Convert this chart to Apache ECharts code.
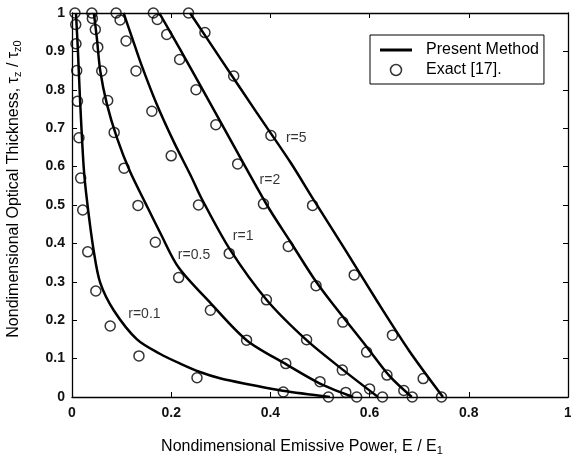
<!DOCTYPE html>
<html>
<head>
<meta charset="utf-8">
<script src="https://cdn.jsdelivr.net/npm/echarts@6/dist/echarts.min.js"></script>
<style>
  html, body { margin: 0; padding: 0; background: #fff; }
  #chart { width: 571px; height: 456px; }
</style>
</head>
<body>
<div id="chart"></div>
<script>
// present method curves, [E/E1, tau/tau0]
var lineR01 = [[0.008, 1], [0.012, 0.9], [0.016, 0.78], [0.0235, 0.6], [0.03, 0.514], [0.0435, 0.383], [0.057, 0.297], [0.084, 0.226], [0.131, 0.15], [0.178, 0.112], [0.218, 0.087], [0.258, 0.065], [0.30, 0.048], [0.36, 0.032], [0.425, 0.016], [0.52, 0]];
var lineR05 = [[0.044, 1], [0.05, 0.936], [0.057, 0.849], [0.0705, 0.762], [0.0906, 0.675], [0.117, 0.587], [0.148, 0.505], [0.178, 0.427], [0.215, 0.337], [0.279, 0.245], [0.352, 0.148], [0.432, 0.085], [0.5, 0.035], [0.567, 0]];
var lineR1 = [[0.104, 1], [0.12, 0.94], [0.14, 0.865], [0.17, 0.765], [0.205, 0.665], [0.24, 0.575], [0.262, 0.515], [0.319, 0.383], [0.393, 0.252], [0.473, 0.148], [0.547, 0.07], [0.617, 0]];
var lineR2 = [[0.176, 1], [0.218, 0.905], [0.298, 0.72], [0.393, 0.5], [0.44, 0.405], [0.487, 0.31], [0.52, 0.252], [0.594, 0.131], [0.64, 0.055], [0.685, 0]];
var lineR5 = [[0.238, 1], [0.30, 0.88], [0.37, 0.745], [0.44, 0.612], [0.487, 0.514], [0.55, 0.385], [0.614, 0.252], [0.68, 0.12], [0.748, 0]];

// exact solution [17]
var exactR01 = [[0.006, 1], [0.0075, 0.97], [0.008, 0.92], [0.0095, 0.85], [0.011, 0.77], [0.014, 0.675], [0.0175, 0.57], [0.0216, 0.487], [0.0317, 0.378], [0.048, 0.276], [0.077, 0.185], [0.135, 0.107], [0.252, 0.05], [0.426, 0.013], [0.517, 0]];
var exactR05 = [[0.04, 1], [0.041, 0.986], [0.047, 0.957], [0.052, 0.911], [0.06, 0.849], [0.072, 0.772], [0.085, 0.689], [0.105, 0.596], [0.133, 0.499], [0.168, 0.403], [0.215, 0.311], [0.279, 0.226], [0.352, 0.148], [0.431, 0.087], [0.5, 0.04], [0.552, 0.012], [0.574, 0]];
var exactR1 = [[0.089, 1], [0.097, 0.982], [0.109, 0.927], [0.129, 0.849], [0.161, 0.744], [0.2, 0.628], [0.255, 0.5], [0.317, 0.374], [0.392, 0.253], [0.473, 0.149], [0.545, 0.07], [0.6, 0.021], [0.626, 0]];
var exactR2 = [[0.164, 1], [0.172, 0.983], [0.191, 0.944], [0.217, 0.879], [0.25, 0.80], [0.29, 0.709], [0.334, 0.607], [0.386, 0.503], [0.436, 0.392], [0.492, 0.29], [0.546, 0.195], [0.594, 0.117], [0.635, 0.057], [0.669, 0.017], [0.686, 0]];
var exactR5 = [[0.235, 1], [0.268, 0.949], [0.326, 0.836], [0.401, 0.681], [0.485, 0.499], [0.569, 0.318], [0.646, 0.161], [0.708, 0.048], [0.745, 0]];

var curveNames = ['r=0.1', 'r=0.5', 'r=1', 'r=2', 'r=5'];
var labelPos = [[0.146, 0.216], [0.246, 0.37], [0.345, 0.42], [0.399, 0.566], [0.452, 0.675]];

var chart = echarts.init(document.getElementById('chart'));
var FONT = '"Liberation Sans", Arial, sans-serif';

function lineSeries(name, data) {
    return {
        name: name,
        type: 'line',
        data: data,
        smooth: 0.3,
        symbol: 'none',
        lineStyle: { color: '#000', width: 2.5 },
        itemStyle: { color: '#000' },
        z: 3
    };
}
function circleSeries(name, data) {
    return {
        name: name,
        type: 'scatter',
        data: data,
        symbol: 'circle',
        symbolSize: 10,
        itemStyle: { color: 'rgba(255,255,255,0)', borderColor: '#000', borderWidth: 1.5 },
        z: 4
    };
}

var labelData = [];
for (var i = 0; i < curveNames.length; i++) {
    labelData.push({ value: labelPos[i], name: curveNames[i] });
}

var axisCommon = {
    type: 'value',
    min: 0,
    max: 1,
    splitLine: { show: false },
    axisLine: { show: true, onZero: false, lineStyle: { color: '#000', width: 1.3 } },
    axisTick: { show: true, inside: true, length: 5, lineStyle: { color: '#000' } }
};

option = {
    animation: false,
    backgroundColor: '#fff',
    grid: { left: 72, right: 3, top: 13, bottom: 59, outerBoundsMode: 'none', containLabel: false },
    legend: {
        left: 370,
        top: 35,
        orient: 'vertical',
        padding: [7, 5, 6, 10],
        itemGap: 4,
        itemWidth: 32,
        itemHeight: 11,
        borderColor: '#000',
        borderWidth: 1,
        backgroundColor: '#fff',
        textStyle: { fontFamily: FONT, fontSize: 16, color: '#000', padding: [0, 0, 0, 9] },
        data: [
            { name: 'Present Method', icon: 'path://M0,0H32V3H0Z' },
            { name: 'Exact [17].', itemStyle: { color: '#fff', borderColor: '#000', borderWidth: 1.5 } }
        ]
    },
    xAxis: [
        Object.assign({}, axisCommon, {
            position: 'bottom',
            interval: 0.2,
            name: 'Nondimensional Emissive Power, E / E{sub|1}',
            nameLocation: 'middle',
            nameGap: 40,
            nameTextStyle: {
                fontFamily: FONT, fontSize: 16, color: '#000', padding: [0, 36, 0, 0],
                rich: { sub: { fontFamily: FONT, fontSize: 11, verticalAlign: 'bottom', padding: [8, 0, 0, 0] } }
            },
            axisLabel: { fontFamily: FONT, fontSize: 14, fontWeight: 'bold', color: '#111', margin: 9 }
        }),
        Object.assign({}, axisCommon, {
            position: 'top',
            interval: 0.2,
            axisLabel: { show: false }
        })
    ],
    yAxis: [
        Object.assign({}, axisCommon, {
            position: 'left',
            interval: 0.1,
            name: 'Nondimensional Optical Thickness, τ{sub|z} / τ{sub|z0}',
            nameLocation: 'middle',
            nameGap: 49,
            nameTextStyle: {
                fontFamily: FONT, fontSize: 16, color: '#000', padding: [0, 0, 0, 32],
                rich: { sub: { fontFamily: FONT, fontSize: 11, verticalAlign: 'bottom', padding: [8, 0, 0, 0] } }
            },
            axisLabel: { fontFamily: FONT, fontSize: 14, fontWeight: 'bold', color: '#111', margin: 7 }
        }),
        Object.assign({}, axisCommon, {
            position: 'right',
            interval: 0.1,
            axisLabel: { show: false }
        })
    ],
    series: [
        lineSeries('Present Method', lineR01),
        lineSeries('r05', lineR05),
        lineSeries('r1', lineR1),
        lineSeries('r2', lineR2),
        lineSeries('r5', lineR5),
        circleSeries('Exact [17].', exactR01),
        circleSeries('c05', exactR05),
        circleSeries('c1', exactR1),
        circleSeries('c2', exactR2),
        circleSeries('c5', exactR5),
        {
            name: 'labels',
            type: 'scatter',
            data: labelData,
            symbolSize: 0,
            silent: true,
            label: {
                show: true,
                position: 'inside',
                formatter: '{b}',
                fontFamily: FONT,
                fontSize: 14,
                color: '#000'
            },
            z: 5
        }
    ]
};

chart.setOption(option);
</script>
</body>
</html>
